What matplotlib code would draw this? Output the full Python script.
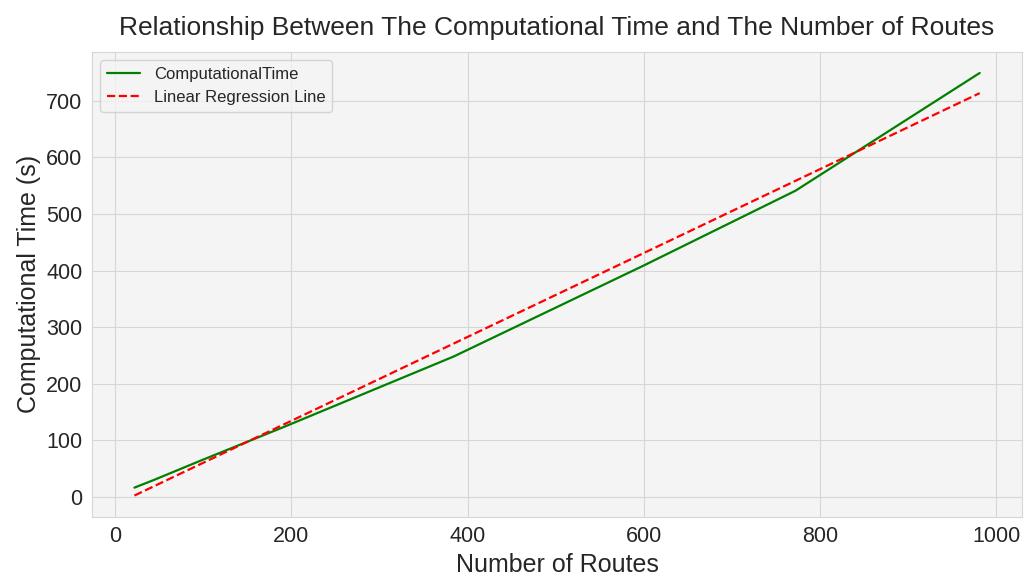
import numpy as np
import matplotlib
matplotlib.use("Agg")
import matplotlib.pyplot as plt
import seaborn as sns

OUTPUT_PLOT_FILE = "out.png"

# valores
routes = [22, 44, 96, 192, 384, 600, 772, 981]
comp_time = [16.5, 30, 63.5, 124, 248, 409, 541, 749]


def plot_time_vs_routes():
    sns.set_style("whitegrid", {"axes.facecolor": "#f4f4f4",
                                "grid.color": "#d6d6d6",
                                "axes.edgecolor": "#d6d6d6"})
    plt.rcParams['font.family'] = ['Liberation Sans', 'DejaVu Sans']

    x = np.array(routes, dtype=float)
    y = np.array(comp_time, dtype=float)
    # regressão linear simples
    slope, intercept = np.polyfit(x, y, 1)

    fig, ax = plt.subplots(figsize=(10.24, 5.76), dpi=100)
    ax.plot(x, y, color='green', linewidth=1.6, label='ComputationalTime')
    ax.plot(x, slope * x + intercept, color='red', linestyle='--',
            linewidth=1.6, label='Linear Regression Line')

    ax.set_title("Relationship Between The Computational Time and The Number of Routes",
                 fontsize=19, pad=12)
    ax.set_xlabel("Number of Routes", fontsize=18)
    ax.set_ylabel("Computational Time (s)", fontsize=18)
    ax.tick_params(labelsize=15.5)
    ax.set_xticks([0, 200, 400, 600, 800, 1000])
    ax.set_yticks(range(0, 701, 100))
    ax.legend(loc='upper left', fontsize=12)

    fig.subplots_adjust(left=0.09, right=0.998, top=0.91, bottom=0.103)
    plt.savefig(OUTPUT_PLOT_FILE, dpi=100)


if __name__ == "__main__":
    plot_time_vs_routes()
